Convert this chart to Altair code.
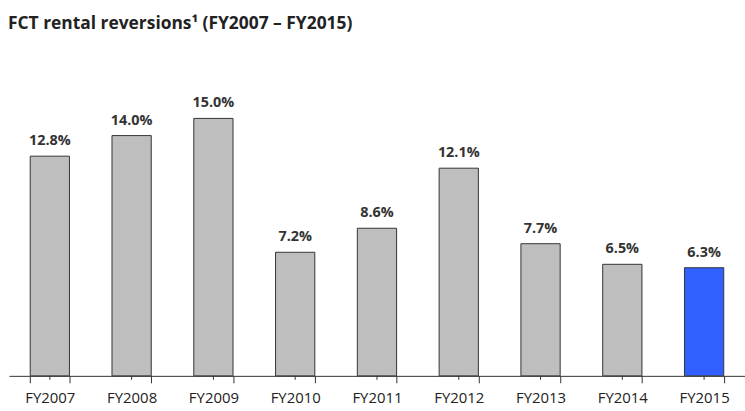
import altair as alt
import pandas as pd

categories = ["FY2007", "FY2008", "FY2009", "FY2010", "FY2011", "FY2012", "FY2013", "FY2014", "FY2015"]
values = [12.8, 14.0, 15.0, 7.2, 8.6, 12.1, 7.7, 6.5, 6.3]
labels = ["12.8%", "14.0%", "15.0%", "7.2%", "8.6%", "12.1%", "7.7%", "6.5%", "6.3%"]
highlight = [False, False, False, False, False, False, False, False, True]

df = pd.DataFrame({"cat": categories, "val": values, "label": labels, "hl": highlight})

W = 741
H = 311
FONT = "Open Sans"

x = alt.X("cat:N", sort=categories,
          scale=alt.Scale(paddingInner=0.52, paddingOuter=0.26),
          axis=alt.Axis(title=None, labelAngle=0, tickBand="extent", tickSize=7,
                        domainColor="#333", tickColor="#333", labelColor="#222",
                        labelFont=FONT, labelFontSize=15, labelPadding=8, grid=False))
y = alt.Y("val:Q", scale=alt.Scale(domain=[0, 18]), axis=None)

bars = alt.Chart(df).mark_bar(stroke="#333", strokeWidth=1).encode(
    x=x, y=y,
    color=alt.Color("hl:N", scale=alt.Scale(domain=[False, True], range=["#BEBEBE", "#3060FF"]), legend=None),
)

text = alt.Chart(df).mark_text(baseline="bottom", dy=-8, font=FONT, fontSize=14.5,
                               fontWeight="bold", color="#333").encode(
    x=alt.X("cat:N", sort=categories), y=y, text="label:N")

center_ticks = alt.Chart(df).mark_rule(color="#333", strokeWidth=1).encode(
    x=alt.X("cat:N", sort=categories),
    y=alt.value(H), y2=alt.value(H + 4))

chart = alt.layer(bars, text, center_ticks).properties(
    width=W, height=H,
    title=alt.TitleParams("FCT rental reversions\u00b9 (FY2007 \u2013 FY2015)", anchor="start",
                          font=FONT, fontSize=17.5, fontWeight="bold", color="#222", offset=35, dx=-1),
    padding={"left": 9, "top": 66, "right": 0, "bottom": 34},
    autosize=alt.AutoSizeParams(type="none"),
).configure_view(stroke=None)

chart.save("out.html", embed_options={"renderer": "svg", "actions": False})
